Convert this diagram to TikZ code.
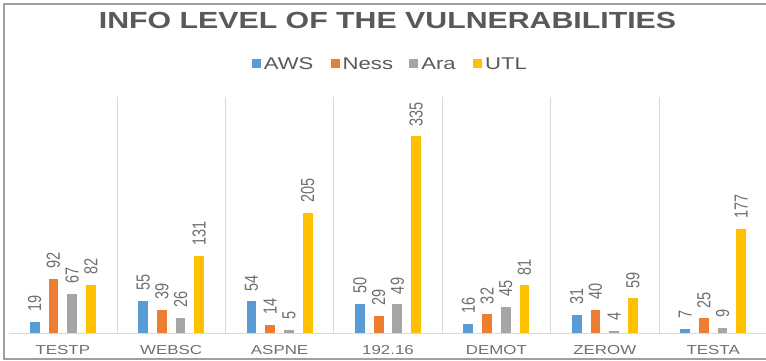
\documentclass[tikz,border=0pt]{standalone}
\usepackage{fontspec}
\setmainfont{Liberation Sans}[FakeStretch=1.3]
\newfontfamily\numfont{Liberation Sans}
\usepackage{graphicx}
\usetikzlibrary{positioning}

\definecolor{aws}{HTML}{5B9BD5}
\definecolor{ness}{HTML}{ED7D31}
\definecolor{ara}{HTML}{A5A5A5}
\definecolor{utl}{HTML}{FFC000}
\definecolor{titulo}{HTML}{595959}
\definecolor{etiq}{HTML}{6F6F6F}
\definecolor{rejilla}{HTML}{D9D9D9}
\definecolor{marco}{HTML}{A0A0A0}

\begin{document}
\begin{tikzpicture}[
    x=1pt, y=1pt,
    valor/.style={rotate=90, anchor=west, inner sep=0pt, text=etiq, font=\numfont\fontsize{14.5}{17}\selectfont},
    categoria/.style={inner sep=0pt, text=etiq, font=\fontsize{13}{15}\selectfont},
    cuadro/.style={minimum size=9pt, inner sep=0pt},
    leyenda/.style={inner sep=0pt, text=titulo, font=\fontsize{17}{20}\selectfont},
    separador/.style={draw=rejilla, line width=0.8pt}
]
\useasboundingbox (0,0) rectangle (766,361);

% Marco exterior
\draw[marco, line width=2pt] (3.7,1.7) rectangle (772,357);

% Titulo
\node[inner sep=0pt, text=titulo, font=\bfseries\fontsize{23.3}{28}\selectfont] (titulo) at (387.5,341)
{INFO LEVEL OF THE VULNERABILITIES};

% Leyenda
\node[cuadro, fill=aws] (sqaws) at (256.5,297.5) {};
\node[leyenda, right=2.5pt of sqaws] (laws) {AWS};
\node[cuadro, fill=ness, right=17pt of laws] (sqness) {};
\node[leyenda, right=2.5pt of sqness] (lness) {Ness};
\node[cuadro, fill=ara, right=16pt of lness] (sqara) {};
\node[leyenda, right=2.5pt of sqara] (lara) {Ara};
\node[cuadro, fill=utl, right=17pt of lara] (squtl) {};
\node[leyenda, right=2.5pt of squtl] (lutl) {UTL};

% Separadores y eje
\foreach \k in {1,...,6}
    \draw[separador] (8.6+108.4*\k,28) -- (8.6+108.4*\k,264);
\draw[separador] (8.6,28) -- (772,28);

% Barras y etiquetas
\foreach \cat/\a/\b/\c/\d [count=\i from 0] in {TESTP/19/92/67/82, WEBSC/55/39/26/131,
    ASPNE/54/14/5/205, 192.16/50/29/49/335, DEMOT/16/32/45/81, ZEROW/31/40/4/59, TESTA/7/25/9/177} {
    \pgfmathsetmacro\cx{62.8+108.4*\i}
    \node[categoria] (cat\i) at (\cx,10.7) {\cat};
    \foreach \v/\col/\off [count=\j] in {\a/aws/-28.05, \b/ness/-9.35, \c/ara/9.35, \d/utl/28.05} {
        \fill[\col] (\cx+\off-4.9,28) rectangle (\cx+\off+4.9,28+0.587*\v);
        \node[valor] (val\i-\j) at (\cx+\off,28+0.587*\v+10) {\scalebox{1}[1.3]{\v}};
    }
}

\end{tikzpicture}
\end{document}
